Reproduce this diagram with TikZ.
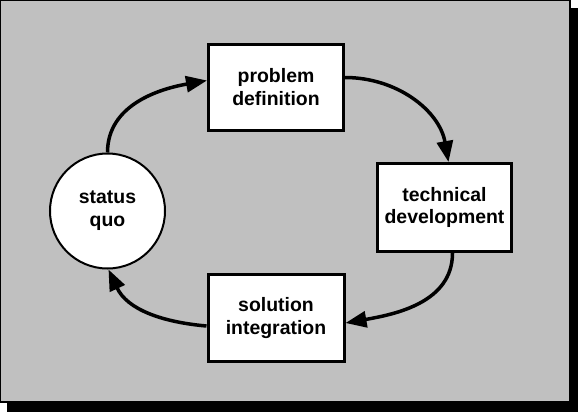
\documentclass[tikz,border=0pt]{standalone}
\usepackage{fontspec}
\setmainfont{Liberation Sans}
\usetikzlibrary{arrows.meta}
\definecolor{panel}{RGB}{192,192,192}
\begin{document}
\begin{tikzpicture}[x=1bp, y=1bp,
        stage/.style={draw, line width=3bp, fill=white, minimum width=135bp, minimum height=86bp,
            align=center, font=\bfseries\fontsize{19.5}{23}\selectfont},
        flow/.style={line width=3.5bp, -{Triangle[length=21bp, width=16bp]}}]
    \useasboundingbox (0,0) rectangle (581,413);
    % shadow and panel
    \fill (7,1) rectangle (578,405);
    \draw [fill=panel, line width=2bp] (0,11) rectangle (570,413);
    % stages
    \node [stage] (pd) at (276,325.5) {problem\\definition};
    \node [stage, minimum width=134bp, minimum height=88bp] (td) at (444.5,205.5) {technical\\development};
    \node [stage, minimum width=136bp, minimum height=87bp] (si) at (276,95) {solution\\integration};
    \node [draw, circle, line width=2bp, fill=white, minimum size=115bp, align=center,
        font=\bfseries\fontsize{19.5}{23}\selectfont] (sq) at (107.5,202) {status\\quo};
    % cycle
    \draw [flow] (sq.north) to [out=90, in=190] ([yshift=7bp]pd.west);
    \draw [flow] ([yshift=10bp]pd.east) to [out=0, in=100] ([xshift=4bp]td.north);
    \draw [flow] ([xshift=8bp]td.south) to [out=-90, in=10] ([yshift=-5bp]si.east);
    \draw [flow] ([yshift=-8bp]si.west) to [out=175, in=-65] ([xshift=1bp]sq.south);
\end{tikzpicture}
\end{document}
